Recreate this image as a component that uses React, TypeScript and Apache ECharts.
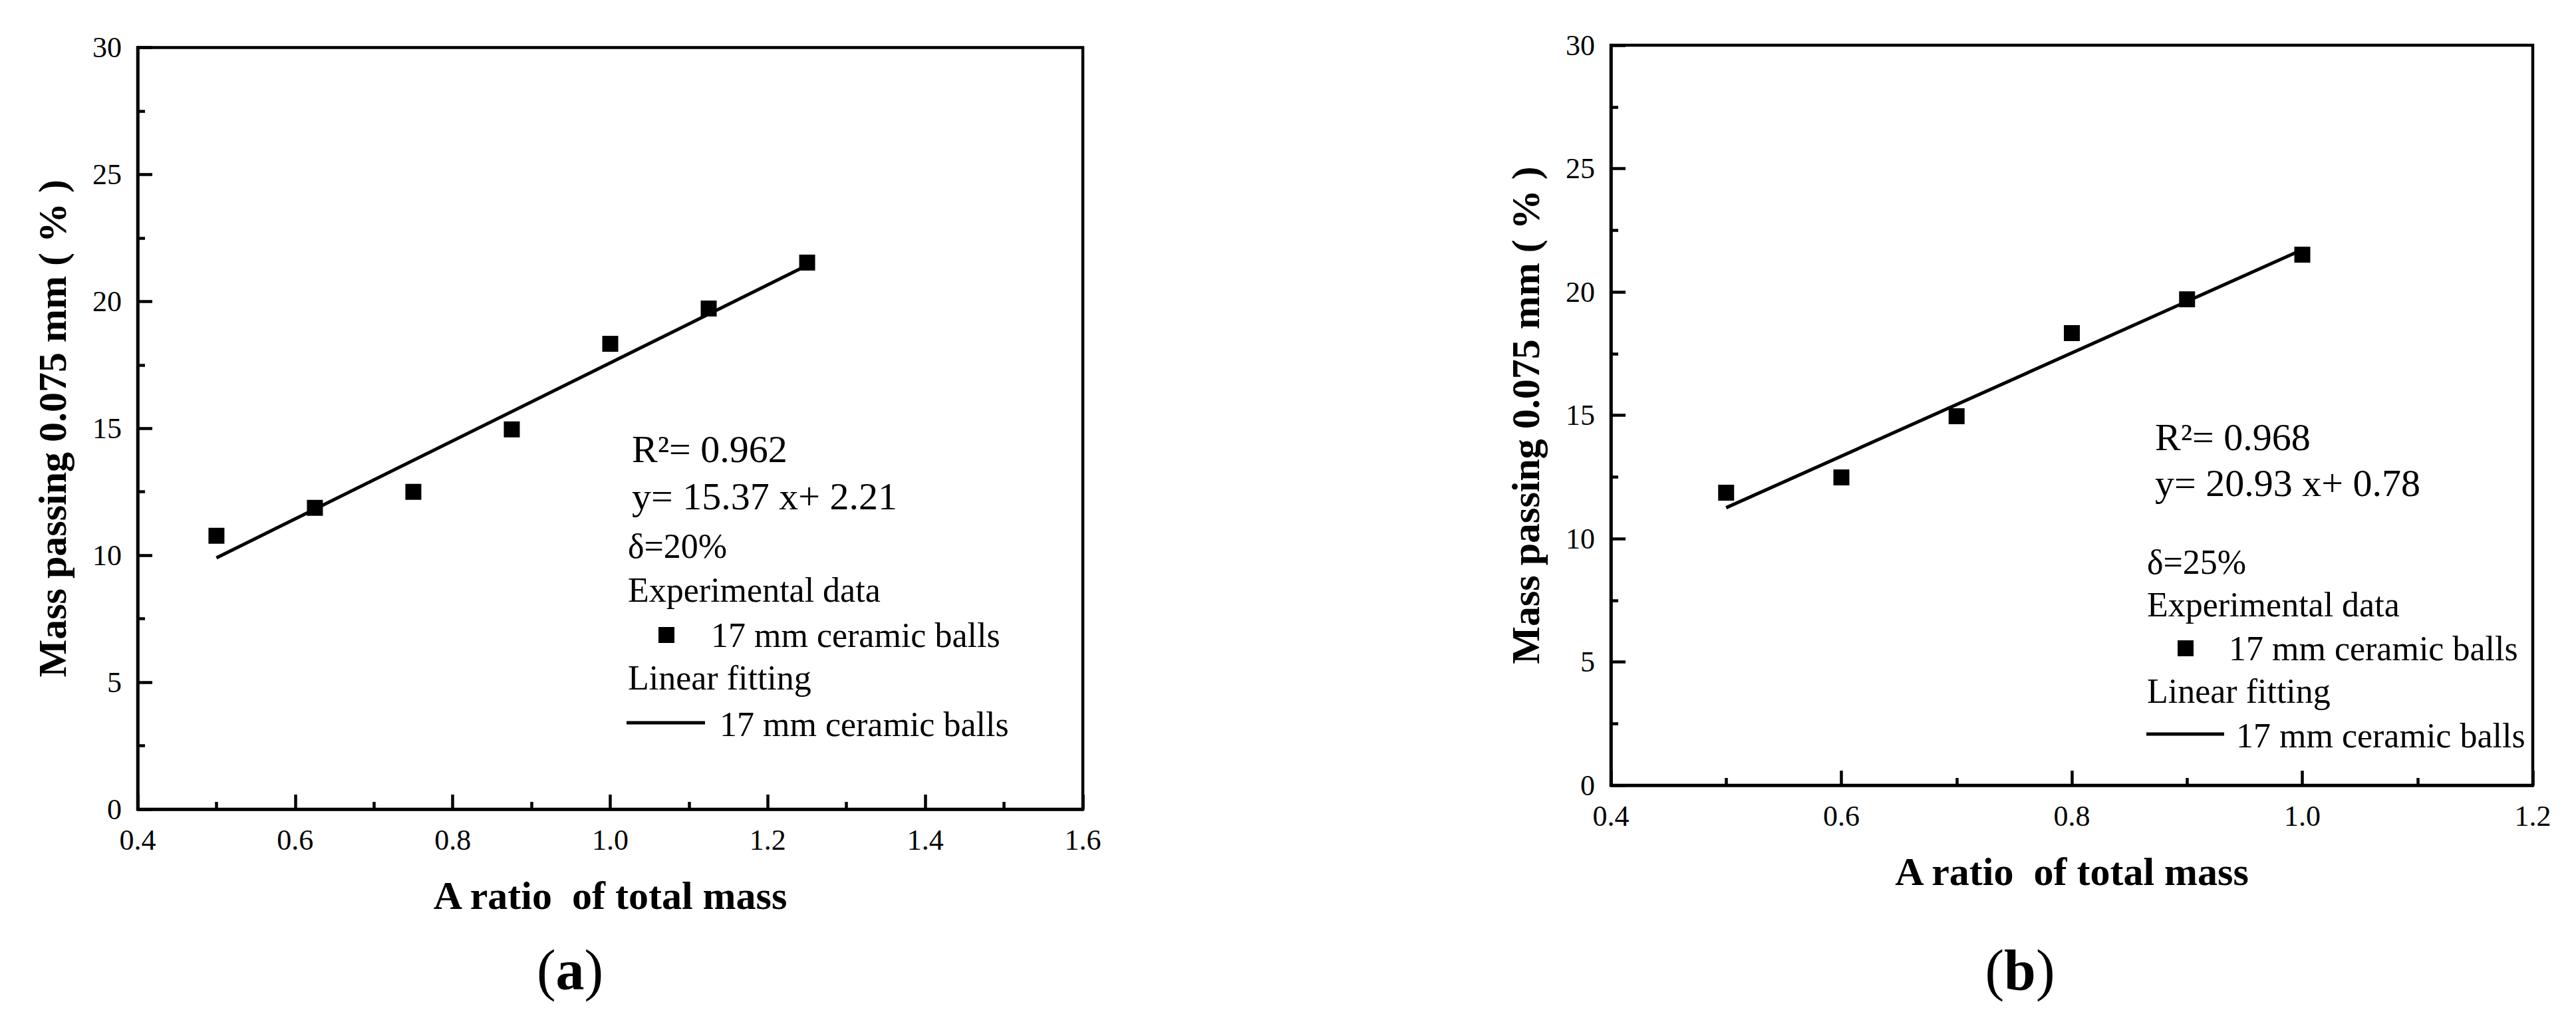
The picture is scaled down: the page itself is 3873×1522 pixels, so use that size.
import React, { useEffect, useRef } from 'react';
import * as echarts from 'echarts';

// ---- data ----
const ratioA = [0.5, 0.625, 0.75, 0.875, 1.0, 1.125, 1.25];
const massA = [10.77, 11.87, 12.5, 14.96, 18.33, 19.72, 21.53];
const fitRatioA = [0.5, 1.25];
const fitMassA = [9.9, 21.42];

const ratioB = [0.5, 0.6, 0.7, 0.8, 0.9, 1.0];
const massB = [11.86, 12.48, 14.96, 18.33, 19.7, 21.51];
const fitRatioB = [0.5, 1.0];
const fitMassB = [11.25, 21.71];

const statsA = ['R²= 0.962', 'y= 15.37 x+ 2.21', 'δ=20%'];
const statsB = ['R²= 0.968', 'y= 20.93 x+ 0.78', 'δ=25%'];
const legendHeads = ['Experimental data', 'Linear fitting'];
const seriesLabel = '17 mm ceramic balls';
const panelLabels = ['a', 'b'];
const xTitle = 'A ratio  of total mass';
const yTitle = 'Mass passing 0.075 mm ( % )';

const FONT = 'Liberation Serif';

function pairs(xs: number[], ys: number[]) {
  return xs.map((x, i) => [x, ys[i]]);
}

function mkX(gi: number, min: number, max: number) {
  return {
    type: 'value',
    gridIndex: gi,
    min,
    max,
    interval: 0.2,
    name: xTitle,
    nameLocation: 'middle',
    nameGap: 100,
    nameTextStyle: { fontFamily: FONT, fontWeight: 'bold', fontSize: 60, color: '#000' },
    axisLine: { show: true, onZero: false, lineStyle: { color: '#000', width: 4.5 } },
    axisTick: { show: true, inside: true, length: 22, lineStyle: { color: '#000', width: 4.5 } },
    minorTick: { show: true, splitNumber: 2, length: 11, lineStyle: { color: '#000', width: 4.5 } },
    splitLine: { show: false },
    minorSplitLine: { show: false },
    axisLabel: {
      fontFamily: FONT,
      fontSize: 44,
      color: '#000',
      margin: 24,
      formatter: (v: number) => v.toFixed(1),
    },
  };
}

function mkY(gi: number) {
  return {
    type: 'value',
    gridIndex: gi,
    min: 0,
    max: 30,
    interval: 5,
    name: yTitle,
    nameLocation: 'middle',
    nameGap: 98,
    nameRotate: 90,
    nameTextStyle: { fontFamily: FONT, fontWeight: 'bold', fontSize: 60, color: '#000' },
    axisLine: { show: true, onZero: false, lineStyle: { color: '#000', width: 4.5 } },
    axisTick: { show: true, inside: true, length: 22, lineStyle: { color: '#000', width: 4.5 } },
    minorTick: { show: true, splitNumber: 2, length: 11, lineStyle: { color: '#000', width: 4.5 } },
    splitLine: { show: false },
    minorSplitLine: { show: false },
    axisLabel: { fontFamily: FONT, fontSize: 44, color: '#000', margin: 24 },
  };
}

function txt(text: string, x: number, y: number, size: number, align = 'left', weight = 'normal') {
  return {
    type: 'text',
    x,
    y,
    silent: true,
    style: {
      text,
      fill: '#000',
      fontFamily: FONT,
      fontSize: size,
      fontWeight: weight,
      align,
      verticalAlign: 'middle',
    },
  };
}

function panelLabel(letter: string, x: number, y: number) {
  return {
    type: 'text',
    x,
    y,
    silent: true,
    style: {
      text: `{n|(}{b|${letter}}{n|)}`,
      align: 'center',
      verticalAlign: 'middle',
      fill: '#000',
      fontFamily: FONT,
      fontSize: 86,
      rich: {
        n: { fontFamily: FONT, fontSize: 86, fontWeight: 'normal', fill: '#000' },
        b: { fontFamily: FONT, fontSize: 86, fontWeight: 'bold', fill: '#000' },
      },
    },
  };
}

function legendBlock(
  stats: string[],
  statX: number,
  statY: number[],
  blockX: number,
  rowY: number[],
  sqX: number,
  textX1: number,
  lineX: [number, number],
  textX2: number
) {
  return [
    txt(stats[0], statX, statY[0], 58),
    txt(stats[1], statX, statY[1], 58),
    txt(stats[2], blockX, rowY[0], 52),
    txt(legendHeads[0], blockX, rowY[1], 52),
    {
      type: 'rect',
      silent: true,
      shape: { x: sqX - 12, y: rowY[2] - 12, width: 24, height: 24 },
      style: { fill: '#000' },
    },
    txt(seriesLabel, textX1, rowY[2], 52),
    txt(legendHeads[1], blockX, rowY[3], 52),
    {
      type: 'line',
      silent: true,
      shape: { x1: lineX[0], y1: rowY[4], x2: lineX[1], y2: rowY[4] },
      style: { stroke: '#000', lineWidth: 5 },
    },
    txt(seriesLabel, textX2, rowY[4] + 2, 52),
  ];
}

export default function App() {
  const ref = useRef<HTMLDivElement>(null);

  useEffect(() => {
    if (!ref.current) return;
    const chart = echarts.init(ref.current, undefined, { renderer: 'svg' });
    const option = {
      animation: false,
      backgroundColor: '#ffffff',
      grid: [
        { left: 207, top: 71.5, width: 1421, height: 1145.5, show: true, borderColor: '#000', borderWidth: 4.5, backgroundColor: 'transparent' },
        { left: 2422, top: 68, width: 1386, height: 1113, show: true, borderColor: '#000', borderWidth: 4.5, backgroundColor: 'transparent' },
      ],
      xAxis: [mkX(0, 0.4, 1.6), mkX(1, 0.4, 1.2)],
      yAxis: [mkY(0), mkY(1)],
      series: [
        {
          type: 'line',
          name: 'Linear fitting a',
          xAxisIndex: 0,
          yAxisIndex: 0,
          data: pairs(fitRatioA, fitMassA),
          symbol: 'none',
          showSymbol: false,
          lineStyle: { color: '#000', width: 5 },
          z: 2,
        },
        {
          type: 'scatter',
          name: 'Experimental data a',
          xAxisIndex: 0,
          yAxisIndex: 0,
          data: pairs(ratioA, massA),
          symbol: 'rect',
          symbolSize: 24,
          itemStyle: { color: '#000', opacity: 1 },
          z: 3,
        },
        {
          type: 'line',
          name: 'Linear fitting b',
          xAxisIndex: 1,
          yAxisIndex: 1,
          data: pairs(fitRatioB, fitMassB),
          symbol: 'none',
          showSymbol: false,
          lineStyle: { color: '#000', width: 5 },
          z: 2,
        },
        {
          type: 'scatter',
          name: 'Experimental data b',
          xAxisIndex: 1,
          yAxisIndex: 1,
          data: pairs(ratioB, massB),
          symbol: 'rect',
          symbolSize: 24,
          itemStyle: { color: '#000', opacity: 1 },
          z: 3,
        },
      ],
      graphic: [
        ...legendBlock(statsA, 950, [675, 746], 944, [821, 887, 955, 1019, 1087], 1002, 1069, [942, 1060], 1082),
        ...legendBlock(statsB, 3240, [657, 726], 3228, [845, 909, 975, 1039, 1104], 3286, 3351, [3227, 3344], 3362),
        panelLabel(panelLabels[0], 857, 1459),
        panelLabel(panelLabels[1], 3037, 1459),
      ],
    };
    chart.setOption(option as any);
    return () => chart.dispose();
  }, []);

  return (
    <div
      ref={ref}
      style={{ position: 'absolute', left: 0, top: 0, width: 3873, height: 1522, background: '#fff' }}
    />
  );
}
